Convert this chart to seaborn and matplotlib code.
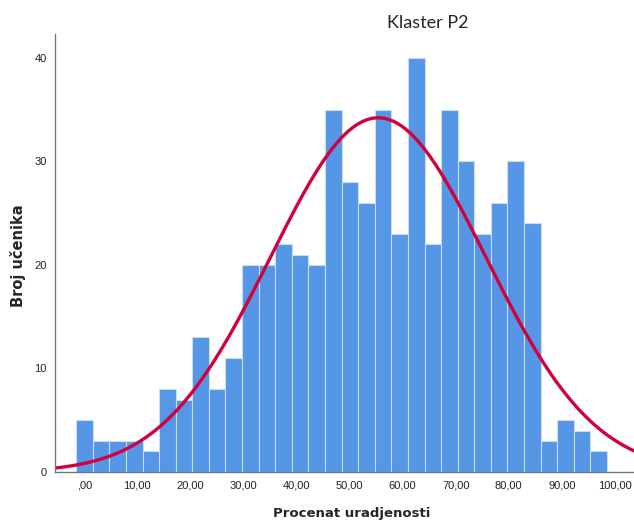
import numpy as np
import pandas as pd
import matplotlib
matplotlib.use("Agg")
import matplotlib.pyplot as plt
import seaborn as sns

# histogram counts (32 bins)
counts = [5, 3, 3, 3, 2, 8, 7, 13, 8, 11,
          20, 20, 22, 21, 20, 35, 28, 26, 35, 23,
          40, 22, 35, 30, 23, 26, 30, 24, 3, 5,
          4, 2]
bin_start = -1.5
bin_width = 3.125
# normal curve parameters (read from the peak and spread of the curve)
curve_mean = 55.4
curve_sd = 20.3

x_ticks = [0, 10, 20, 30, 40, 50, 60, 70, 80, 90, 100]
x_labels = [",00", "10,00", "20,00", "30,00", "40,00", "50,00",
            "60,00", "70,00", "80,00", "90,00", "100,00"]
y_ticks = [0, 10, 20, 30, 40]

edges = bin_start + bin_width * np.arange(len(counts) + 1)
df = pd.DataFrame({"x": (edges[:-1] + edges[1:]) / 2, "n": counts})

sns.set_style("white")
plt.rcParams["font.family"] = ["Liberation Sans", "DejaVu Sans"]

fig = plt.figure(figsize=(6.34, 5.21), dpi=100)
ax = fig.add_axes([55 / 634, 1 - 472 / 521, 1 - 55 / 634, (472 - 34) / 521])

sns.histplot(data=df, x="x", weights="n", bins=edges.tolist(), ax=ax,
             color="#5596E6", alpha=1, edgecolor="#C9DDF7", linewidth=0.8)

xs = np.linspace(-5.5, 103.6, 400)
total = sum(counts)
ys = total * bin_width / (curve_sd * np.sqrt(2 * np.pi)) * np.exp(-0.5 * ((xs - curve_mean) / curve_sd) ** 2)
sns.lineplot(x=xs, y=ys, ax=ax, color="#D2003C", linewidth=2.4)

ax.set_xlim(-5.5, 103.6)
ax.set_ylim(0, 42.3)
ax.set_xticks(x_ticks)
ax.set_xticklabels(x_labels)
ax.set_yticks(y_ticks)
ax.tick_params(axis="both", length=0, labelsize=8, colors="#222222", pad=6)
for s in ["top", "right"]:
    ax.spines[s].set_visible(False)
for s in ["left", "bottom"]:
    ax.spines[s].set_color("#777777")
    ax.spines[s].set_linewidth(1.0)

ax.set_xlabel("")
ax.set_ylabel("")
fig.text(352 / 634, 1 - 514 / 521, "Procenat uradjenosti", ha="center", va="center",
         fontsize=9.5, fontweight="bold", family=["DejaVu Sans"])
fig.text(18 / 634, 1 - 256 / 521, "Broj učenika", ha="center", va="center",
         rotation=90, fontsize=10.5, fontweight="bold", family=["DejaVu Sans"])
fig.text(428 / 634, 1 - 23 / 521, "Klaster P2", ha="center", va="center",
         fontsize=13, family=["Lato", "DejaVu Sans"])

fig.savefig("out.png", dpi=100)
